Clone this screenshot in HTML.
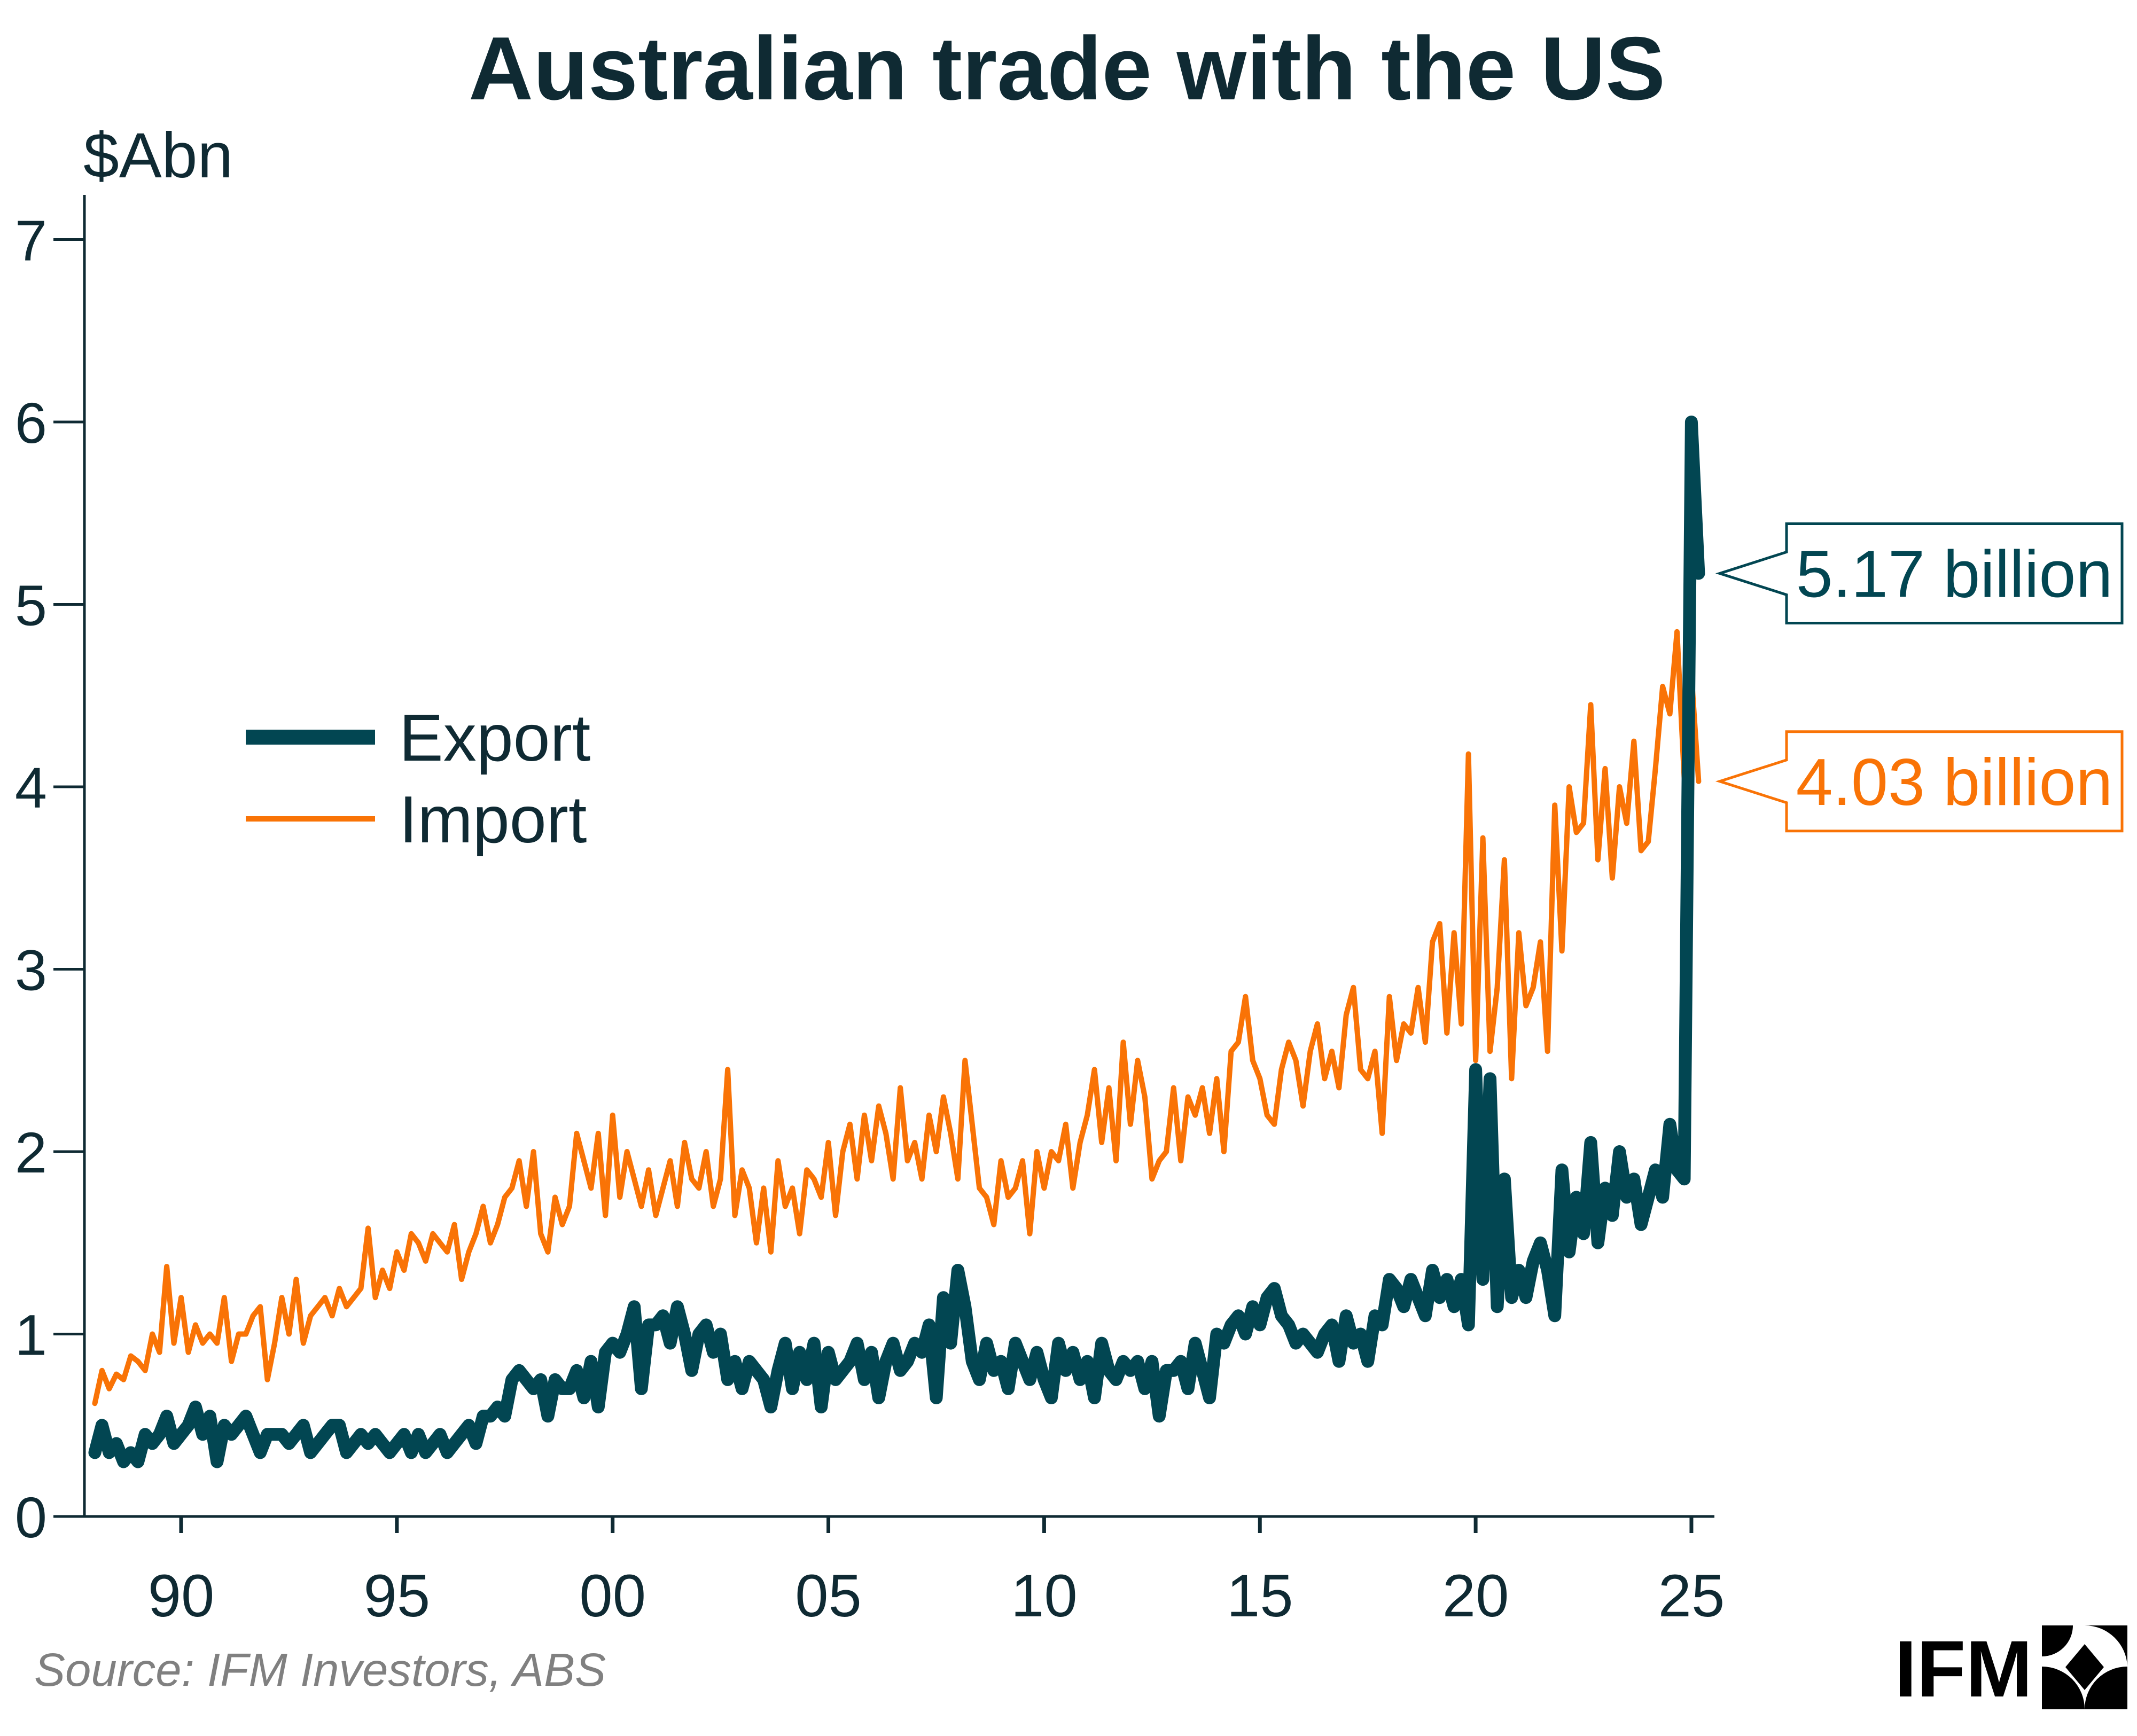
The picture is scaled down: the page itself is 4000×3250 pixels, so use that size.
<!DOCTYPE html>
<html><head><meta charset="utf-8"><style>
html,body{margin:0;padding:0;background:#fff;}
svg{display:block;font-family:"Liberation Sans",Arial,sans-serif;}
</style></head><body>
<svg id="chart" width="4000" height="3250" viewBox="0 0 4000 3250" xmlns="http://www.w3.org/2000/svg">
<rect width="4000" height="3250" fill="#fff"/>
<text x="1997" y="186" text-anchor="middle" font-size="168" font-weight="bold" fill="#0f2a33">Australian trade with the US</text>
<text x="156" y="332" font-size="120" fill="#0f2a33">$Abn</text>
<g id="axes"></g>
<g id="series"></g>
<g>
<line x1="460" y1="1380" x2="702" y2="1380" stroke="#024652" stroke-width="28"/>
<text x="747" y="1424" font-size="124" fill="#0f2a33">Export</text>
<line x1="460" y1="1533" x2="702" y2="1533" stroke="#F97306" stroke-width="10"/>
<text x="747" y="1577" font-size="124" fill="#0f2a33">Import</text>
</g>
<g id="annot"></g>
<text x="64" y="3156" font-size="87" font-style="italic" fill="#808080">Source: IFM Investors, ABS</text>
<g>
<text x="3546" y="3176" font-size="150" font-weight="bold" fill="#000">IFM</text>
<path d="M3822,3043 H3982 V3120 A80,80 0 0 0 3902,3043 Z M3822,3043 V3120 A80,80 0 0 1 3902,3200 H3822 Z M3982,3200 H3902 A80,80 0 0 1 3982,3120 Z M3822,3043 H3880 A58,58 0 0 1 3822,3101 Z" fill="#000"/>
<path d="M3902,3078 L3938,3121 L3902,3164 L3866,3121 Z" fill="#000"/>
</g>
</svg>
<script>
const yTicks = [0,1,2,3,4,5,6,7];
const xTickYears = [1990,1995,2000,2005,2010,2015,2020,2025];
const xTickLabels = ["90","95","00","05","10","15","20","25"];
const startYear = 1988;
const pointsPerYear = 6;
const importValues = [
0.62,0.8,0.7,0.78,0.75,0.88, 0.85,0.8,1.0,0.9,1.37,0.95, 1.2,0.9,1.05,0.95,1.0,0.95,
1.2,0.85,1.0,1.0,1.1,1.15, 0.75,0.95,1.2,1.0,1.3,0.95, 1.1,1.15,1.2,1.1,1.25,1.15,
1.2,1.25,1.58,1.2,1.35,1.25, 1.45,1.35,1.55,1.5,1.4,1.55, 1.5,1.45,1.6,1.3,1.45,1.55,
1.7,1.5,1.6,1.75,1.8,1.95, 1.7,2.0,1.55,1.45,1.75,1.6, 1.7,2.1,1.95,1.8,2.1,1.65,
2.2,1.75,2.0,1.85,1.7,1.9, 1.65,1.8,1.95,1.7,2.05,1.85, 1.8,2.0,1.7,1.85,2.45,1.65,
1.9,1.8,1.5,1.8,1.45,1.95, 1.7,1.8,1.55,1.9,1.85,1.75, 2.05,1.65,2.0,2.15,1.85,2.2,
1.95,2.25,2.1,1.85,2.35,1.95, 2.05,1.85,2.2,2.0,2.3,2.1, 1.85,2.5,2.15,1.8,1.75,1.6,
1.95,1.75,1.8,1.95,1.55,2.0, 1.8,2.0,1.95,2.15,1.8,2.05, 2.2,2.45,2.05,2.35,1.95,2.6,
2.15,2.5,2.3,1.85,1.95,2.0, 2.35,1.95,2.3,2.2,2.35,2.1, 2.4,2.0,2.55,2.6,2.85,2.5,
2.4,2.2,2.15,2.45,2.6,2.5, 2.25,2.55,2.7,2.4,2.55,2.35, 2.75,2.9,2.45,2.4,2.55,2.1,
2.85,2.5,2.7,2.65,2.9,2.6, 3.15,3.25,2.65,3.2,2.7,4.18, 2.5,3.72,2.55,2.9,3.6,2.4,
3.2,2.8,2.9,3.15,2.55,3.9, 3.1,4.0,3.75,3.8,4.45,3.6, 4.1,3.5,4.0,3.8,4.25,3.65,
3.7,4.1,4.55,4.4,4.85,4.05, 4.62,4.03];
const exportValues = [
0.35,0.5,0.35,0.4,0.3,0.35, 0.3,0.45,0.4,0.45,0.55,0.4, 0.45,0.5,0.6,0.45,0.55,0.3,
0.5,0.45,0.5,0.55,0.45,0.35, 0.45,0.45,0.45,0.4,0.45,0.5, 0.35,0.4,0.45,0.5,0.5,0.35,
0.4,0.45,0.4,0.45,0.4,0.35, 0.4,0.45,0.35,0.45,0.35,0.4, 0.45,0.35,0.4,0.45,0.5,0.4,
0.55,0.55,0.6,0.55,0.75,0.8, 0.75,0.7,0.75,0.55,0.75,0.7, 0.7,0.8,0.65,0.85,0.6,0.9,
0.95,0.9,1.0,1.15,0.7,1.05, 1.05,1.1,0.95,1.15,1.0,0.8, 1.0,1.05,0.9,1.0,0.75,0.85,
0.7,0.85,0.8,0.75,0.6,0.8, 0.95,0.7,0.9,0.75,0.95,0.6, 0.9,0.75,0.8,0.85,0.95,0.75,
0.9,0.65,0.85,0.95,0.8,0.85, 0.95,0.9,1.05,0.65,1.2,0.95, 1.35,1.15,0.85,0.75,0.95,0.8,
0.85,0.7,0.95,0.85,0.75,0.9, 0.75,0.65,0.95,0.8,0.9,0.75, 0.85,0.65,0.95,0.8,0.75,0.85,
0.8,0.85,0.7,0.85,0.55,0.8, 0.8,0.85,0.7,0.95,0.8,0.65, 1.0,0.95,1.05,1.1,1.0,1.15,
1.05,1.2,1.25,1.1,1.05,0.95, 1.0,0.95,0.9,1.0,1.05,0.85, 1.1,0.95,1.0,0.85,1.1,1.05,
1.3,1.25,1.15,1.3,1.2,1.1, 1.35,1.2,1.3,1.15,1.3,1.05, 2.45,1.3,2.4,1.15,1.85,1.2,
1.35,1.2,1.4,1.5,1.35,1.1, 1.9,1.45,1.75,1.55,2.05,1.5, 1.8,1.65,2.0,1.75,1.85,1.6,
1.75,1.9,1.75,2.15,1.9,1.85, 6.0,5.17];
const annotLabels = ["5.17 billion","4.03 billion"];

const NS = "http://www.w3.org/2000/svg";
const X0 = 339, PXY = 80.77, Y0 = 2839, PXV = 341.5;
function xScale(t){ return X0 + (t - 1990) * PXY; }
function yScale(v){ return Y0 - v * PXV; }
function mk(tag, attrs, parent){ const e = document.createElementNS(NS, tag); for (const k in attrs) e.setAttribute(k, attrs[k]); parent.appendChild(e); return e; }

const axes = document.getElementById('axes');
const ax = mk('line', {x1:158, y1:365, x2:158, y2:2839, stroke:'#0f2a33', 'stroke-width':5}, axes);


const bx = mk('line', {x1:158, y1:2839, x2:3209, y2:2839, stroke:'#0f2a33', 'stroke-width':5}, axes);


yTicks.forEach(v => {
  const y = yScale(v);
  const tk = mk('line', {x1:100, y1:y, x2:158, y2:y, stroke:'#0f2a33', 'stroke-width':5}, axes);
  
  
  const lb = mk('text', {x:88, y:y+39, 'text-anchor':'end', 'font-size':108, fill:'#0f2a33'}, axes);
  lb.textContent = String(v);
  
  
});
xTickYears.forEach((yr, i) => {
  const x = xScale(yr);
  const tk = mk('line', {x1:x, y1:2839, x2:x, y2:2870, stroke:'#0f2a33', 'stroke-width':7}, axes);
  
  
  const lb = mk('text', {x:x, y:3026, 'text-anchor':'middle', 'font-size':112, fill:'#0f2a33'}, axes);
  lb.textContent = xTickLabels[i];
  
  
});

const series = document.getElementById('series');
function pathFor(vals){ return vals.map((v,i) => (i?'L':'M') + xScale(startYear + i/pointsPerYear).toFixed(1) + ',' + yScale(v).toFixed(1)).join(' '); }
const imp = mk('path', {d:pathFor(importValues), fill:'none', stroke:'#F97306', 'stroke-width':10, 'stroke-linejoin':'round', 'stroke-linecap':'round'}, series);


const exp = mk('path', {d:pathFor(exportValues), fill:'none', stroke:'#024652', 'stroke-width':24, 'stroke-linejoin':'round', 'stroke-linecap':'round'}, series);



const annot = document.getElementById('annot');
function callout(v, label, color, name){
  const y = yScale(v);
  const g = mk('g', {}, annot);
  
  
  const top = y - 93, bot = y + 93;
  mk('path', {d:`M3219,${y} L3344,${y-40} L3344,${top} L3972,${top} L3972,${bot} L3344,${bot} L3344,${y+40} Z`, fill:'#fff', stroke:color, 'stroke-width':5}, g);
  const t = mk('text', {x:3658, y:y+44, 'text-anchor':'middle', 'font-size':124, fill:color}, g);
  t.textContent = label;
}
callout(exportValues[exportValues.length-1], annotLabels[0], '#024652', 'export-latest-callout');
callout(importValues[importValues.length-1], annotLabels[1], '#F97306', 'import-latest-callout');
</script>
</body></html>
